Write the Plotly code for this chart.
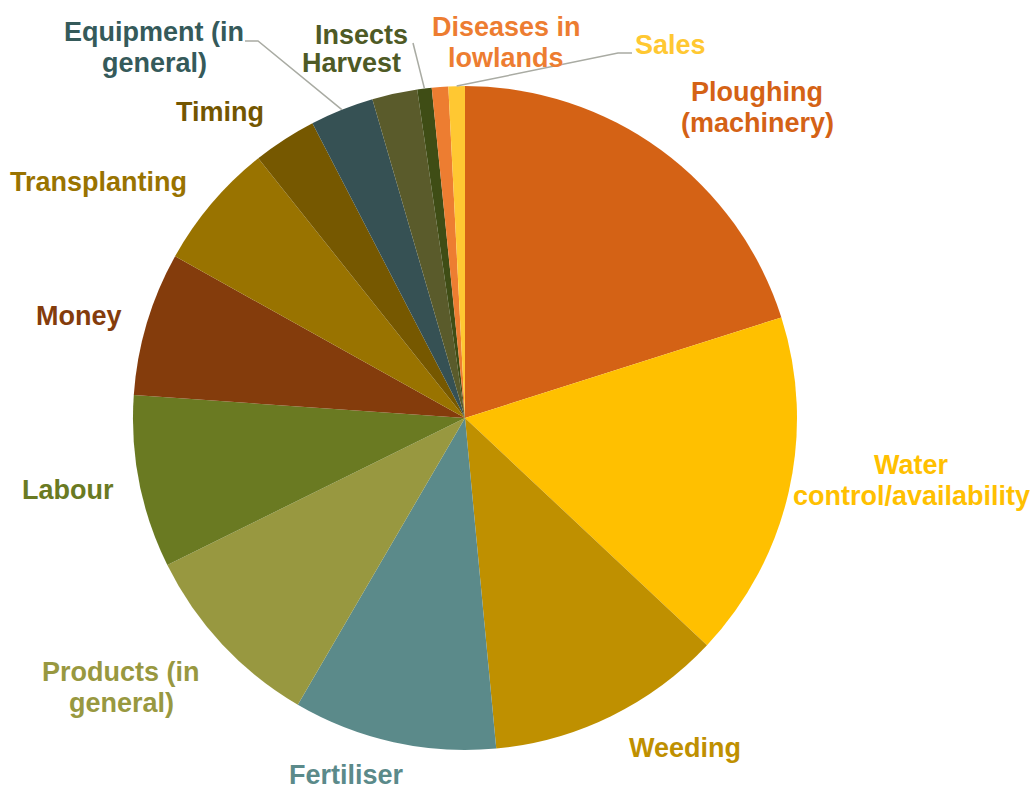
import math
import plotly.graph_objects as go

# ---- data ----
categories = ["Ploughing (machinery)", "Water control/availability", "Weeding", "Fertiliser",
              "Products (in general)", "Labour", "Money", "Transplanting", "Timing",
              "Equipment (in general)", "Insects", "Harvest", "Diseases in lowlands", "Sales"]
values = [20.1, 16.9, 11.5, 9.9, 9.3, 8.4, 7.0, 6.2, 3.1, 3.1, 2.2, 0.7, 0.8, 0.8]
label_lines = [["Ploughing", "(machinery)"], ["Water", "control/availability"], ["Weeding"],
               ["Fertiliser"], ["Products (in", "general)"], ["Labour"], ["Money"],
               ["Transplanting"], ["Timing"], ["Equipment (in", "general)"], ["Insects"],
               ["Harvest"], ["Diseases in", "lowlands"], ["Sales"]]

# ---- styles / layout ----
W, H = 1030, 789
CX, CY, R = 465, 418, 332
slice_colors = ["#D46215", "#FFC000", "#BF9000", "#5B8A8A", "#989840", "#6A7A22", "#843C0C",
                "#997300", "#765800", "#365154", "#5A5B2B", "#3F4D15", "#ED7D31", "#FFC832"]
text_colors = ["#D46215", "#FFC000", "#BF9000", "#5B8A8A", "#989840", "#6A7A22", "#843C0C",
               "#997300", "#735600", "#355A5A", "#4E5A25", "#4E5A25", "#ED7D31", "#FFC832"]
# label centre (px) of the first line
label_pos = [(757, 92), (911, 465), (685, 748), (346, 775), (121, 672), (68, 490), (79, 316),
             (98, 182), (220, 112), (154, 32), (361, 35), (351, 63), (506, 27), (670, 45)]
LINE_GAP = 31
FONT_SIZE = 27
# leader lines: index -> list of start points (px) before reaching the rim
leaders = {9: [(245, 41), (258, 41)], 11: [(413, 43)], 13: [(632, 53), (618, 53)]}

fig = go.Figure(go.Pie(
    labels=categories, values=values, sort=False, direction="clockwise", rotation=0,
    marker=dict(colors=slice_colors, line=dict(width=0)),
    textinfo="none", hoverinfo="label+percent", showlegend=False,
    domain=dict(x=[(CX - R) / W, (CX + R) / W], y=[1 - (CY + R) / H, 1 - (CY - R) / H]),
))

def px2paper(x, y):
    return x / W, 1 - y / H

annotations = []
for i, lines in enumerate(label_lines):
    x0, y0 = label_pos[i]
    for k, ln in enumerate(lines):
        px, py = px2paper(x0, y0 + k * LINE_GAP)
        annotations.append(dict(x=px, y=py, xref="paper", yref="paper", text="<b>" + ln + "</b>",
                                showarrow=False, xanchor="center", yanchor="middle",
                                font=dict(family="Liberation Sans, Arial, sans-serif", size=FONT_SIZE,
                                          color=text_colors[i])))

total = sum(values)
cum = 0
mids = []
for v in values:
    mids.append((cum + v / 2) / total * 2 * math.pi)
    cum += v

shapes = []
for idx, pts in leaders.items():
    a = mids[idx]
    rim = (CX + R * math.sin(a), CY - R * math.cos(a))
    allpts = pts + [rim]
    path = ""
    for j, (x, y) in enumerate(allpts):
        px, py = px2paper(x, y)
        path += ("M" if j == 0 else "L") + f"{px},{py} "
    shapes.append(dict(type="path", xref="paper", yref="paper", path=path.strip(),
                       line=dict(color="#A9ABA3", width=1.5)))

fig.update_layout(width=W, height=H, margin=dict(l=0, r=0, t=0, b=0),
                  paper_bgcolor="white", plot_bgcolor="white",
                  annotations=annotations, shapes=shapes)
fig.write_html("out.html", config={"displayModeBar": False},
               post_script="document.body.style.margin='0';document.body.style.overflow='hidden';")
